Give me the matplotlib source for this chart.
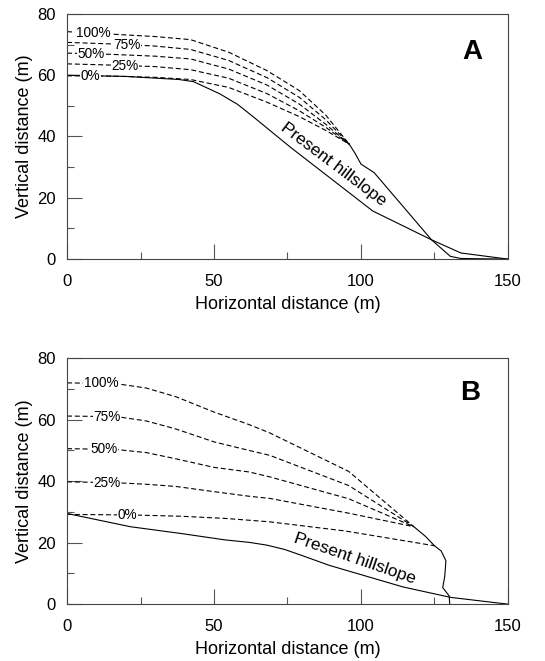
import numpy as np
import matplotlib
matplotlib.use('Agg')
import matplotlib.pyplot as plt
from matplotlib.ticker import MultipleLocator

plt.rcParams['font.family'] = ['Liberation Sans', 'DejaVu Sans']

# ---- panel A: profiles (dashed) for 0..100 %
xa = [0, 15, 30, 42, 55, 68, 79, 88, 96]
a100 = [74.2, 73.4, 72.6, 71.6, 67.5, 61.5, 55.0, 47.0, 37.5]
a75 = [70.7, 70.2, 69.5, 68.4, 64.8, 59.2, 52.8, 45.5, 37.5]
a50 = [67.2, 66.8, 66.2, 65.3, 62.0, 56.8, 50.6, 44.0, 37.5]
a25 = [63.7, 63.3, 62.8, 61.8, 59.0, 54.0, 48.4, 43.0, 37.5]
a0 = [59.8, 59.7, 59.3, 58.6, 56.0, 51.2, 46.5, 42.0, 37.5]
toe_ax = [96, 98, 100, 104.5, 124, 130.4, 134, 150]
toe_ay = [37.5, 34.5, 31, 28.2, 6.3, 0.9, 0.2, 0]
hill_ax = [0, 20, 38, 43, 52, 58, 63, 76, 104, 124, 134, 150]
hill_ay = [60, 59.6, 58.6, 57.9, 53.9, 50.5, 46.7, 36.5, 15.7, 6.3, 2.0, 0]

# ---- panel B
xb = [0, 17, 27, 37, 50, 62, 69, 95.8, 118]
b100 = [72.0, 71.7, 70.3, 67.5, 62.5, 58.4, 55.7, 43.2, 25.2]
b75 = [61.2, 61.0, 59.6, 57.0, 52.8, 50.0, 48.4, 38.6, 25.2]
b50 = [50.6, 50.3, 49.3, 47.3, 44.5, 43.0, 41.4, 34.3, 25.2]
b25 = [39.8, 39.5, 39.0, 38.3, 36.6, 35.1, 34.4, 29.6, 25.2]
xb0 = [0, 23, 38.7, 53.8, 68.8, 94.7, 125]
b0 = [29.2, 29.0, 28.6, 27.9, 26.8, 23.8, 19.0]
toe_bx = [118, 122, 125, 127.3, 128.9, 128.5, 127.8, 130, 130.2]
toe_by = [25.2, 22.0, 19.0, 17.3, 14.1, 9.0, 5.4, 2.7, 0]
hill_bx = [0, 21.5, 38.7, 53.8, 62, 68, 74, 80, 89.3, 114.3, 130.5, 150]
hill_by = [29.5, 25.2, 23.0, 20.9, 20.1, 19.2, 17.8, 15.8, 12.6, 5.6, 2.2, 0]

pct = ['100%', '75%', '50%', '25%', '0%']
lab_ax = [8.9, 20.5, 8.3, 19.8, 8.0]
lab_bx = [11.5, 13.5, 12.5, 13.5, 20.5]

fig = plt.figure(figsize=(5.45, 6.61), dpi=100)
axA = fig.add_axes([0.123, 0.608, 0.809, 0.371])
axB = fig.add_axes([0.123, 0.086, 0.809, 0.372])

dash = (0, (4.5, 2.5))
lw = 0.8


def style(ax):
    ax.set_xlim(0, 150)
    ax.set_ylim(0, 80)
    ax.xaxis.set_major_locator(MultipleLocator(50))
    ax.xaxis.set_minor_locator(MultipleLocator(25))
    ax.yaxis.set_major_locator(MultipleLocator(20))
    ax.yaxis.set_minor_locator(MultipleLocator(10))
    ax.tick_params(which='both', direction='in', color='#555555', width=0.8,
                   labelsize=12)
    ax.tick_params(which='major', length=11)
    ax.tick_params(which='minor', length=5)
    ax.tick_params(axis='y', pad=8)
    ax.tick_params(axis='x', pad=11)
    for s in ax.spines.values():
        s.set_linewidth(0.8)
        s.set_color('#444444')
    ax.set_xlabel('Horizontal distance (m)', fontsize=13, labelpad=5)
    ax.set_ylabel('Vertical distance (m)', fontsize=13, labelpad=3)


def tag(ax, x, y, s):
    ax.text(x, y, s, ha='center', va='center', fontsize=9.8, zorder=5,
            bbox=dict(facecolor='white', edgecolor='none', pad=0.3))


# panel A
for yy in [a100, a75, a50, a25, a0]:
    axA.plot(xa, yy, color='black', lw=lw, linestyle=dash)
axA.plot(toe_ax, toe_ay, color='black', lw=lw)
axA.plot(hill_ax, hill_ay, color='black', lw=lw)
for s, lx, yy in zip(pct, lab_ax, [a100, a75, a50, a25, a0]):
    tag(axA, lx, np.interp(lx, xa, yy), s)
axA.text(90.5, 31, 'Present hillslope', rotation=-37, ha='center', va='center',
         fontsize=12.5, rotation_mode='anchor')
axA.text(138, 67.5, 'A', fontsize=20, fontweight='bold', ha='center', va='center')
style(axA)

# panel B
for yy in [b100, b75, b50, b25]:
    axB.plot(xb, yy, color='black', lw=lw, linestyle=dash)
axB.plot(xb0, b0, color='black', lw=lw, linestyle=dash)
axB.plot(toe_bx, toe_by, color='black', lw=lw)
axB.plot(hill_bx, hill_by, color='black', lw=lw)
for s, lx, xx, yy in zip(pct, lab_bx, [xb, xb, xb, xb, xb0], [b100, b75, b50, b25, b0]):
    tag(axB, lx, np.interp(lx, xx, yy), s)
axB.text(98, 14.8, 'Present hillslope', rotation=-19, ha='center', va='center',
         fontsize=12.5, rotation_mode='anchor')
axB.text(137, 68.6, 'B', fontsize=20, fontweight='bold', ha='center', va='center')
style(axB)

fig.savefig('out.png', dpi=100)
